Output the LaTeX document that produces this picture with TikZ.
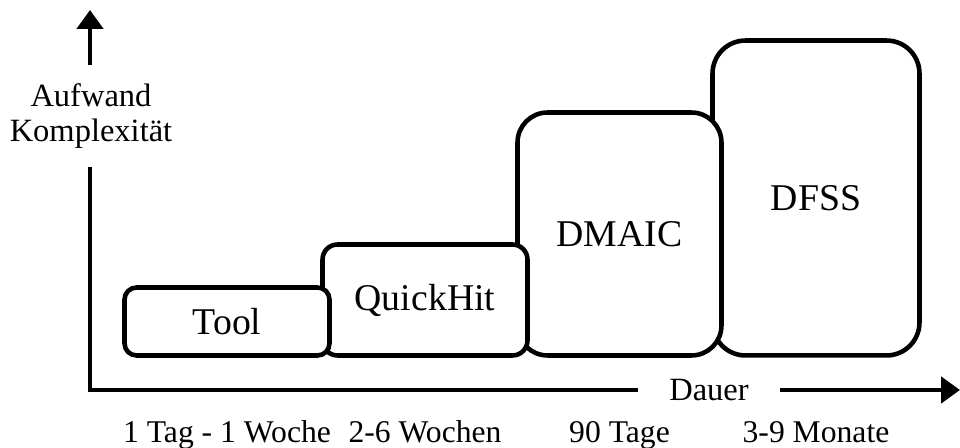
\documentclass[tikz,border=0pt]{standalone}
\usepackage{fontspec}
\setmainfont{Liberation Serif}
\usetikzlibrary{arrows.meta,positioning,calc}
\tikzset{
    phase/.style = {draw, fill=white, line width=2.6pt,
        align=center, inner sep=0pt,
        font=\fontsize{21.5}{24}\selectfont},
    axis/.style = {draw, line width=2.8pt, line join=miter},
    axlabel/.style = {align=center, font=\fontsize{18.5}{20.4}\selectfont},
    durlabel/.style = {anchor=base, font=\fontsize{18}{20}\selectfont}
}

\begin{document}
\begin{tikzpicture}[x=0.02cm, y=0.02cm, >={Triangle[width=0.52cm,length=0.38cm]}]
        \useasboundingbox (0,0) rectangle (960,448);
        % biggest phase first, the smaller ones lie on top of it
        \node [phase, rounded corners=0.66cm, minimum width=4.14cm, minimum height=6.3cm] (dfss) at (816,250) {DFSS};
        \node [phase, rounded corners=0.6cm, minimum width=4.08cm, minimum height=4.86cm] (dmaic) at (619.5,214) {DMAIC};
        \node [phase, rounded corners=0.3cm, minimum width=4.1cm, minimum height=2.22cm] (quick) at (425,148) {QuickHit};
        \node [phase, rounded corners=0.24cm, minimum width=4.1cm, minimum height=1.36cm] (tool) at (227,126.5) {Tool};
        % axes
        \coordinate (origin) at (90,58);
        \coordinate (ytip) at (90,438);
        \coordinate (xtip) at (960,58);
        \node [axlabel, inner ysep=0.36cm] (ylab) at (91,332) {Aufwand\\Komplexität};
        \node [axlabel, inner xsep=0.62cm] (dauer) at (709,58) {Dauer};
        \draw [axis] (ylab.south -| origin) -- (origin) -- (dauer);
        \draw [axis,->] (ylab.north -| origin) -- (ytip);
        \draw [axis,->] (dauer) -- (xtip);
        % durations
        \node [durlabel] (dtool) at (tool.south |- 0,5) {1 Tag - 1 Woche};
        \node [durlabel] (dquick) at (quick.south |- 0,5) {2-6 Wochen};
        \node [durlabel] (ddmaic) at (dmaic.south |- 0,5) {90 Tage};
        \node [durlabel] (ddfss) at (dfss.south |- 0,5) {3-9 Monate};
    \end{tikzpicture}
\end{document}
